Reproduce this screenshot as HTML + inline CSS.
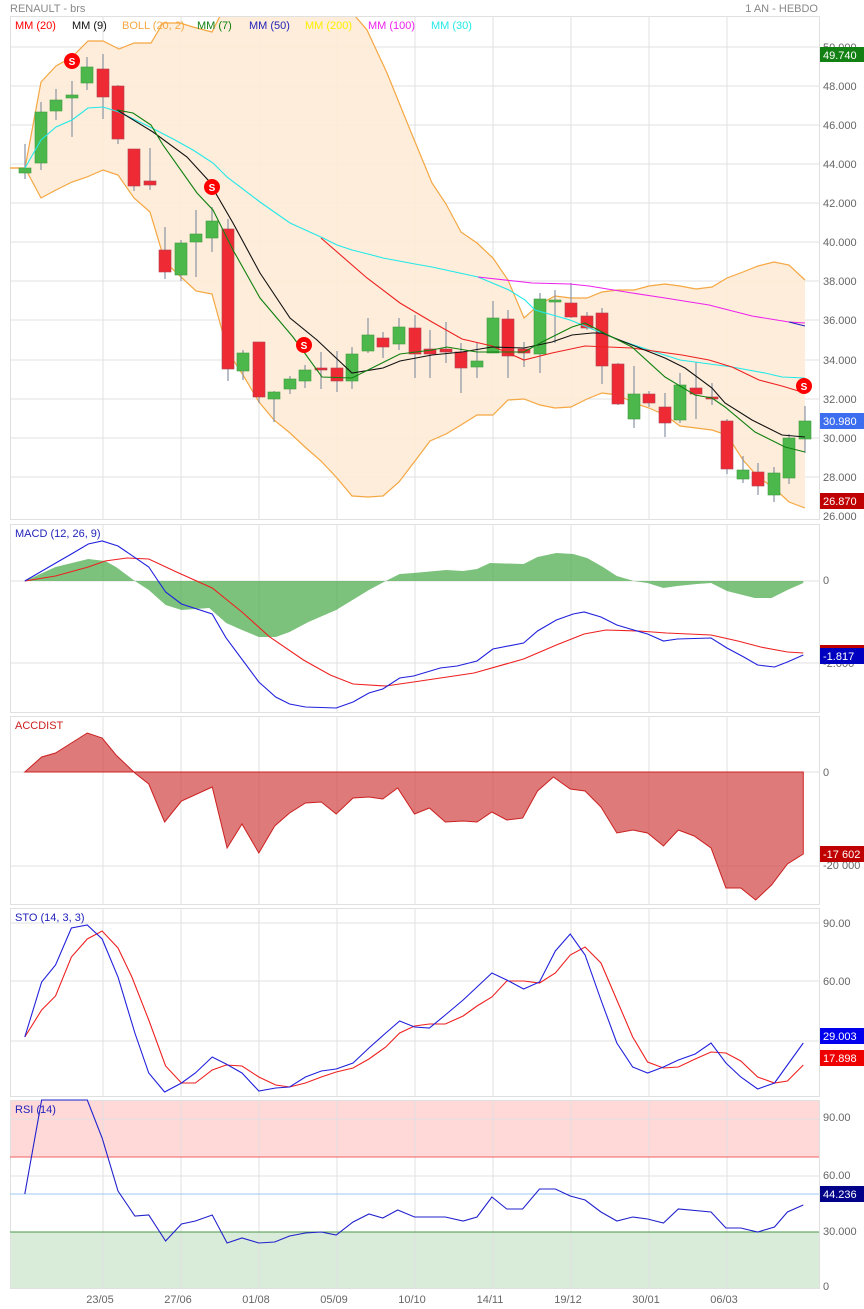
<!DOCTYPE html>
<html><head><meta charset="utf-8"><style>
html,body{margin:0;padding:0;background:#fff}
svg{display:block;font-family:"Liberation Sans",sans-serif}
</style></head><body>
<svg width="864" height="1309" viewBox="0 0 864 1309" xmlns="http://www.w3.org/2000/svg">
<defs>
<clipPath id="cp"><rect x="10" y="17" width="809" height="503"/></clipPath>
</defs>
<text x="10" y="12" font-size="11" fill="#888">RENAULT - brs</text>
<text x="818" y="12" font-size="11" fill="#888" text-anchor="end">1 AN - HEBDO</text>

<g stroke="#e0e0e0" stroke-width="1" fill="none">
<rect x="10.5" y="16.5" width="809" height="503"/>
<path d="M10 47H819M10 86H819M10 125H819M10 164H819M10 203H819M10 242H819M10 281H819M10 320H819M10 360H819M10 399H819M10 438H819M10 477H819"/>
<path d="M103 17V520M181 17V520M259 17V520M337 17V520M415 17V520M493 17V520M571 17V520M649 17V520M727 17V520"/>
</g>
<g clip-path="url(#cp)">
<polygon fill="#fdebd6" fill-opacity="0.9" stroke="none" points="10,168 25,168 41,82 56,66 72,57 88,41 103,41 119,49 134,43 151,43 163,23 180,23 193,27 212,32 223,10 350,10 367,30 387,73 413,137 432,183 446,204 461,232 477,243 493,258 508,280 524,318 540,304 555,296 571,298 587,298 602,292 618,290 634,290 649,286 665,284 680,286 696,289 712,287 727,278 743,272 758,266 774,262 789,265 805,280 805,508 789,502 774,488 758,477 743,460 727,435 712,430 696,428 680,426 665,415 649,408 634,403 618,395 602,393 587,399 571,407 555,408 540,405 524,399 508,400 493,415 477,415 461,425 446,434 430,441 415,461 399,482 383,496 368,497 352,496 337,478 321,461 305,447 290,433 274,420 259,402 243,375 228,352 212,294 196,291 181,277 165,262 150,212 134,198 118,175 103,170 87,177 72,182 56,190 41,198 25,168 10,168"/>
<polyline fill="none" stroke="#f5a742" stroke-width="1.2" points="10,168 25,168 41,82 56,66 72,57 88,41 103,41 119,49 134,43 151,43 163,23 180,23 193,27 212,32 223,10 350,10 367,30 387,73 413,137 432,183 446,204 461,232 477,243 493,258 508,280 524,318 540,304 555,296 571,298 587,298 602,292 618,290 634,290 649,286 665,284 680,286 696,289 712,287 727,278 743,272 758,266 774,262 789,265 805,280"/>
<polyline fill="none" stroke="#f5a742" stroke-width="1.2" points="10,168 25,168 41,198 56,190 72,182 87,177 103,170 118,175 134,198 150,212 165,262 181,277 196,291 212,294 228,352 243,375 259,402 274,420 290,433 305,447 321,461 337,478 352,496 368,497 383,496 399,482 415,461 430,441 446,434 461,425 477,415 493,415 508,400 524,399 540,405 555,408 571,407 587,399 602,393 618,395 634,403 649,408 665,415 680,426 696,428 712,430 727,435 743,460 758,477 774,488 789,502 805,508"/>
</g>
<g stroke="#8a94a6" stroke-width="1.2">
<path d="M25 144V179M41 102V170M56 89V120M72 81V137M87 57V90M103 54V119M118 85V144M134 149V191M150 148V190M165 227V279M181 240V281M196 210V277M212 207V252M228 219V381M243 350V380M259 342V403M274 391V422M290 376V394M305 365V388M321 352V389M337 351V392M352 347V389M368 318V353M383 332V358M399 318V350M415 315V378M430 330V378M446 322V363M461 343V393M477 342V378M493 301V353M508 310V378M524 342V367M540 293V373M555 290V343M571 283V318M587 312V330M602 308V384M618 363V405M634 366V428M649 391V407M665 393V437M680 373V423M696 362V419M712 383V405M727 419V474M743 456V483M758 463V495M774 467V502M789 434V484M805 406V453"/>
</g>
<g fill="#4cb84c" stroke="#3f9a3f" stroke-width="0.6">
<rect x="19" y="168" width="12" height="5"/>
<rect x="35" y="112" width="12" height="51"/>
<rect x="50" y="100" width="12" height="11"/>
<rect x="66" y="95" width="12" height="3"/>
<rect x="81" y="67" width="12" height="16"/>
<rect x="175" y="243" width="12" height="32"/>
<rect x="190" y="234" width="12" height="8"/>
<rect x="206" y="221" width="12" height="17"/>
<rect x="237" y="353" width="12" height="18"/>
<rect x="268" y="392" width="12" height="7"/>
<rect x="284" y="379" width="12" height="10"/>
<rect x="299" y="370" width="12" height="11"/>
<rect x="346" y="354" width="12" height="27"/>
<rect x="362" y="335" width="12" height="16"/>
<rect x="393" y="327" width="12" height="17"/>
<rect x="471" y="361" width="12" height="6"/>
<rect x="487" y="318" width="12" height="35"/>
<rect x="534" y="299" width="12" height="55"/>
<rect x="549" y="300" width="12" height="2"/>
<rect x="628" y="394" width="12" height="25"/>
<rect x="674" y="385" width="12" height="35"/>
<rect x="737" y="470" width="12" height="9"/>
<rect x="768" y="473" width="12" height="22"/>
<rect x="783" y="438" width="12" height="40"/>
<rect x="799" y="421" width="12" height="18"/>
</g>
<g fill="#ee2b35" stroke="#b04050" stroke-width="0.6">
<rect x="97" y="69" width="12" height="28"/>
<rect x="112" y="86" width="12" height="53"/>
<rect x="128" y="149" width="12" height="37"/>
<rect x="144" y="181" width="12" height="4"/>
<rect x="159" y="250" width="12" height="22"/>
<rect x="222" y="229" width="12" height="140"/>
<rect x="253" y="342" width="12" height="55"/>
<rect x="315" y="368" width="12" height="2"/>
<rect x="331" y="368" width="12" height="13"/>
<rect x="377" y="338" width="12" height="9"/>
<rect x="409" y="328" width="12" height="26"/>
<rect x="424" y="349" width="12" height="5"/>
<rect x="440" y="349" width="12" height="3"/>
<rect x="455" y="352" width="12" height="16"/>
<rect x="502" y="319" width="12" height="37"/>
<rect x="518" y="349" width="12" height="4"/>
<rect x="565" y="303" width="12" height="14"/>
<rect x="581" y="316" width="12" height="12"/>
<rect x="596" y="313" width="12" height="53"/>
<rect x="612" y="364" width="12" height="40"/>
<rect x="643" y="394" width="12" height="9"/>
<rect x="659" y="407" width="12" height="16"/>
<rect x="690" y="388" width="12" height="6"/>
<rect x="706" y="397" width="12" height="2"/>
<rect x="721" y="421" width="12" height="48"/>
<rect x="752" y="472" width="12" height="14"/>
</g>
<g fill="none" stroke-width="1.1">
<polyline stroke="#22e8e8" points="25,168 41,140 56,127 72,120 88,108 103,107 119,112 150,127 175,140 193,150 213,163 227,177 260,202 290,223 323,238 337,245 352,250 368,254 383,258 399,261 415,264 432,267 478,277 509,290 525,300 535,310 570,320 619,340 649,350 680,360 732,367 765,373 782,377 805,378"/>
<polyline stroke="#ee22ee" points="478,277 532,283 570,284 589,286 632,293 665,298 709,305 752,316 789,322 805,323"/>
<polyline stroke="#2222bb" points="789,322 805,326"/>
<polyline stroke="#ee2020" points="321,238 367,278 400,303 432,322 462,339 492,346 524,360 552,353 585,346 632,348 682,355 709,360 732,367 759,380 782,386 805,393"/>
<polyline stroke="#111" points="117,110 153,132 187,157 208,180 233,223 260,273 290,318 317,340 352,373 383,368 400,361 432,355 462,352 492,347 524,348 552,342 572,335 592,333 602,333 632,345 665,358 685,368 712,388 725,403 752,420 782,435 805,437"/>
<polyline stroke="#108010" points="117,110 133,113 151,125 163,145 197,193 213,210 233,250 260,298 293,337 322,377 352,378 400,354 432,350 447,347 477,352 524,352 542,342 572,327 585,323 602,332 632,347 665,377 695,395 712,398 725,407 755,432 785,447 805,452"/>
</g>
<g font-size="10" fill="#fff" text-anchor="middle" font-weight="bold">
<circle cx="72" cy="61" r="8" fill="#f00"/><text x="72" y="65">S</text>
<circle cx="212" cy="187" r="8" fill="#f00"/><text x="212" y="191">S</text>
<circle cx="304" cy="345" r="8" fill="#f00"/><text x="304" y="349">S</text>
<circle cx="804" cy="386" r="8" fill="#f00"/><text x="804" y="390">S</text>
</g>
<g font-size="11">
<text x="15" y="29" fill="#f00">MM (20)</text>
<text x="72" y="29" fill="#111">MM (9)</text>
<text x="122" y="29" fill="#f5a742">BOLL (20, 2)</text>
<text x="197" y="29" fill="#108010">MM (7)</text>
<text x="249" y="29" fill="#2222bb">MM (50)</text>
<text x="305" y="29" fill="#ffee00">MM (200)</text>
<text x="368" y="29" fill="#ee22ee">MM (100)</text>
<text x="431" y="29" fill="#22e8e8">MM (30)</text>
</g>
<g font-size="11" fill="#666">
<text x="823" y="51">50.000</text>
<text x="823" y="90">48.000</text>
<text x="823" y="129">46.000</text>
<text x="823" y="168">44.000</text>
<text x="823" y="207">42.000</text>
<text x="823" y="246">40.000</text>
<text x="823" y="285">38.000</text>
<text x="823" y="324">36.000</text>
<text x="823" y="364">34.000</text>
<text x="823" y="403">32.000</text>
<text x="823" y="442">30.000</text>
<text x="823" y="481">28.000</text>
<text x="823" y="520">26.000</text>
</g>
<rect x="820" y="47" width="44" height="15" fill="#128012"/><text x="823" y="59" font-size="11" fill="#fff">49.740</text>
<rect x="820" y="413" width="44" height="16" fill="#3d6ef0"/><text x="823" y="425" font-size="11" fill="#fff">30.980</text>
<rect x="820" y="493" width="44" height="16" fill="#c00000"/><text x="823" y="505" font-size="11" fill="#fff">26.870</text>

<g stroke="#e0e0e0" fill="none">
<rect x="10.5" y="524.5" width="809" height="188"/>
<path d="M10 581H819M10 663H819"/>
<path d="M103 524V712M181 524V712M259 524V712M337 524V712M415 524V712M493 524V712M571 524V712M649 524V712M727 524V712"/>
</g>
<g transform="scale(0.9917 1)">
<polygon fill="#4aaa4a" fill-opacity="0.72" points="25,581 56,567 89,559 106,561 117,567 136,581 150,590 167,605 183,610 211,608 228,623 244,630 261,637 278,637 292,632 311,622 339,610 372,590 389,581 403,574 417,573 450,570 467,571 481,569 494,563 528,564 542,557 561,553 578,554 592,558 608,567 622,576 639,581 653,583 669,588 683,586 703,584 717,583 733,591 761,598 778,598 794,590 810,583 810,581"/>
<polyline fill="none" stroke="#ee2020" stroke-width="1.1" points="25,581 56,576 89,567 106,561 128,558 150,559 178,572 214,588 244,612 272,637 306,660 333,675 356,684 389,686 417,682 478,673 528,659 561,645 589,634 611,630 644,631 672,633 717,635 744,641 767,647 794,652 810,653"/>
<polyline fill="none" stroke="#2020dd" stroke-width="1.1" points="25,581 58,562 72,554 89,544 103,541 119,546 150,567 167,592 183,604 214,614 228,638 261,682 278,697 292,704 308,707 339,708 356,702 372,693 386,689 403,678 417,676 444,668 461,666 481,661 497,649 528,643 542,631 561,620 578,614 589,612 606,617 622,625 639,630 653,634 669,641 683,639 717,638 733,648 750,657 764,665 781,667 794,662 810,655"/>
</g>
<text x="15" y="537" font-size="11" fill="#2222bb">MACD (12, 26, 9)</text>
<text x="823" y="584" font-size="11" fill="#666">0</text>
<text x="823" y="667" font-size="11" fill="#666">-2.000</text>
<rect x="820" y="645" width="44" height="3" fill="#c00000"/>
<rect x="820" y="648" width="44" height="16" fill="#0000c0"/><text x="823" y="660" font-size="11" fill="#fff">-1.817</text>

<g stroke="#e0e0e0" fill="none">
<rect x="10.5" y="716.5" width="809" height="188"/>
<path d="M10 772H819M10 866H819"/>
<path d="M103 716V904M181 716V904M259 716V904M337 716V904M415 716V904M493 716V904M571 716V904M649 716V904M727 716V904"/>
</g>
<g transform="scale(0.9917 1)">
<polygon fill="#d55555" fill-opacity="0.78" stroke="#cc2020" stroke-width="1" points="25,772 42,757 56,753 72,743 88,733 103,738 117,755 136,773 150,784 166,822 183,801 214,787 229,848 244,824 261,853 277,826 292,813 308,803 324,802 339,814 356,798 372,797 386,799 401,788 418,814 433,808 449,822 467,821 481,822 496,812 511,820 527,818 542,791 558,777 575,789 590,791 606,807 622,833 638,830 653,833 669,846 684,830 700,836 717,848 732,888 747,888 762,900 778,885 794,864 810,854 810,772"/>
</g>
<text x="15" y="729" font-size="11" fill="#cc2020">ACCDIST</text>
<text x="823" y="776" font-size="11" fill="#666">0</text>
<text x="823" y="869" font-size="11" fill="#666">-20 000</text>
<rect x="820" y="846" width="44" height="16" fill="#c00000"/><text x="823" y="858" font-size="11" fill="#fff">-17 602</text>

<g stroke="#e0e0e0" fill="none">
<rect x="10.5" y="908.5" width="809" height="188"/>
<path d="M10 923H819M10 981H819M10 1041H819"/>
<path d="M103 908V1096M181 908V1096M259 908V1096M337 908V1096M415 908V1096M493 908V1096M571 908V1096M649 908V1096M727 908V1096"/>
</g>
<g transform="scale(0.9917 1)" fill="none" stroke-width="1.1">
<polyline stroke="#ee2020" points="25,1037 42,1010 56,996 72,957 88,939 103,931 119,948 133,977 150,1020 167,1066 183,1083 197,1083 214,1070 228,1065 244,1066 261,1077 278,1085 292,1087 308,1083 324,1077 339,1072 356,1068 372,1059 389,1047 403,1033 418,1026 433,1024 449,1024 467,1016 481,1006 496,997 511,981 528,981 544,983 560,973 575,955 590,947 606,963 622,1000 638,1037 653,1062 669,1068 684,1067 701,1059 717,1052 732,1053 747,1061 764,1077 781,1083 794,1081 810,1065"/>
<polyline stroke="#2020dd" points="25,1037 42,982 56,965 72,928 88,925 103,939 119,977 136,1033 150,1073 166,1092 183,1083 197,1073 214,1057 228,1064 244,1073 261,1091 278,1088 292,1087 308,1077 324,1071 339,1069 356,1063 372,1048 389,1033 403,1021 418,1027 433,1028 449,1015 467,1000 481,987 496,973 511,980 528,989 544,982 560,951 575,934 590,955 606,1000 622,1043 638,1067 653,1073 669,1067 684,1060 701,1054 717,1043 732,1063 747,1077 764,1089 781,1083 794,1065 810,1043"/>
</g>
<text x="15" y="921" font-size="11" fill="#2222bb">STO (14, 3, 3)</text>
<text x="823" y="927" font-size="11" fill="#666">90.00</text>
<text x="823" y="985" font-size="11" fill="#666">60.00</text>
<rect x="820" y="1028" width="44" height="16" fill="#0000ee"/><text x="823" y="1040" font-size="11" fill="#fff">29.003</text>
<rect x="820" y="1050" width="44" height="16" fill="#ee0000"/><text x="823" y="1062" font-size="11" fill="#fff">17.898</text>

<rect x="10" y="1100" width="809" height="57" fill="#ffd8d8"/>
<rect x="10" y="1232" width="809" height="56" fill="#d9ebd9"/>
<g stroke="#e0e0e0" fill="none">
<rect x="10.5" y="1100.5" width="809" height="188"/>
<path d="M10 1119H819M10 1176H819"/>
<path d="M103 1100V1288M181 1100V1288M259 1100V1288M337 1100V1288M415 1100V1288M493 1100V1288M571 1100V1288M649 1100V1288M727 1100V1288"/>
</g>
<path d="M10 1157H819" stroke="#f06060" stroke-width="1"/>
<path d="M10 1194H819" stroke="#9cc8f0" stroke-width="1"/>
<path d="M10 1232H819" stroke="#4a9a4a" stroke-width="1"/>
<g transform="scale(0.9917 1)">
<polyline fill="none" stroke="#2020cc" stroke-width="1.1" points="25,1194 42,1100 88,1100 103,1138 119,1191 136,1216 150,1215 167,1241 183,1224 197,1221 214,1215 229,1243 244,1238 261,1243 277,1242 292,1236 308,1233 324,1232 339,1235 356,1222 372,1214 386,1218 401,1210 418,1217 449,1217 467,1221 481,1217 496,1197 511,1209 527,1209 544,1189 560,1189 575,1196 590,1200 606,1212 622,1221 638,1217 653,1219 669,1223 684,1209 717,1212 732,1228 747,1228 764,1232 781,1227 794,1212 810,1205"/>
</g>
<text x="15" y="1113" font-size="11" fill="#2222bb">RSI (14)</text>
<text x="823" y="1121" font-size="11" fill="#666">90.00</text>
<text x="823" y="1179" font-size="11" fill="#666">60.00</text>
<text x="823" y="1235" font-size="11" fill="#666">30.000</text>
<text x="823" y="1290" font-size="11" fill="#666">0</text>
<rect x="820" y="1186" width="44" height="16" fill="#000088"/><text x="823" y="1198" font-size="11" fill="#fff">44.236</text>

<g font-size="11" fill="#666" text-anchor="middle">
<text x="100" y="1303">23/05</text>
<text x="178" y="1303">27/06</text>
<text x="256" y="1303">01/08</text>
<text x="334" y="1303">05/09</text>
<text x="412" y="1303">10/10</text>
<text x="490" y="1303">14/11</text>
<text x="568" y="1303">19/12</text>
<text x="646" y="1303">30/01</text>
<text x="724" y="1303">06/03</text>
</g>
</svg>
</body></html>
